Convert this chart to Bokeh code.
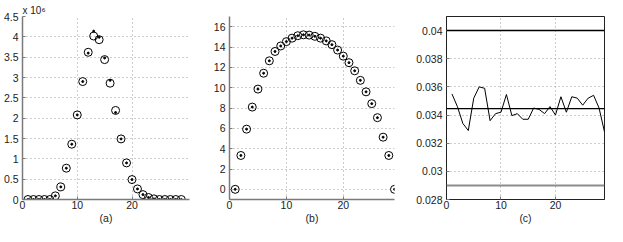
from bokeh.plotting import figure
from bokeh.layouts import row
from bokeh.models import Range1d, FixedTicker, Span, CustomJSTickFormatter
from bokeh.embed import file_html
from bokeh.resources import INLINE

# ---------------- data ----------------
x = list(range(1, 30))

# panel (a), values in units of 1e6
a_circles = [0, 0, 0, 0, 0, 0.09, 0.31, 0.77, 1.36, 2.08, 2.90, 3.62, 4.02, 3.93, 3.44,
             2.86, 2.19, 1.49, 0.90, 0.49, 0.26, 0.12, 0.05, 0.015, 0, 0, 0, 0, 0]
a_dots = [0, 0, 0, 0, 0, 0.09, 0.31, 0.77, 1.36, 2.08, 2.90, 3.60, 4.14, 3.99, 3.48,
          2.93, 2.14, 1.49, 0.90, 0.49, 0.26, 0.12, 0.05, 0.015, 0, 0, 0, 0, 0]
a_yticks = [0, 0.5, 1, 1.5, 2, 2.5, 3, 3.5, 4, 4.5]
a_scale_text = "x 10\u2076"

# panel (b)
b_vals = [0, 3.33, 5.92, 8.09, 9.86, 11.42, 12.64, 13.56, 14.10, 14.53, 14.87, 15.11,
          15.20, 15.17, 15.05, 14.87, 14.60, 14.23, 13.70, 13.10, 12.46, 11.66, 10.72,
          9.59, 8.43, 7.05, 5.13, 3.33, 0]
b_yticks = [0, 2, 4, 6, 8, 10, 12, 14, 16]

# panel (c)
c_vals = [0.0355, 0.0346, 0.0334, 0.0329, 0.0352, 0.0360, 0.0359, 0.0336, 0.0341, 0.0342,
          0.03546, 0.03396, 0.0341, 0.0337, 0.0337, 0.0345, 0.0344, 0.0341, 0.0346, 0.0340,
          0.0353, 0.0342, 0.0353, 0.0352, 0.0347, 0.0352, 0.0354, 0.0345, 0.0328]
c_black_levels = [0.040, 0.03446]
c_gray_levels = [0.029]
c_yticks = [0.028, 0.03, 0.032, 0.034, 0.036, 0.038, 0.04]

x_ticks = [0, 10, 20]
panel_labels = ["(a)", "(b)", "(c)"]

FONT = "Liberation Sans"
TXT = "#222222"
AXC = "#7a7a7a"


def make_fig(width, left, right, xr, yr, yticks, label):
    p = figure(width=width, height=226, x_range=Range1d(*xr), y_range=Range1d(*yr),
               output_backend="svg", toolbar_location=None,
               min_border_left=left, min_border_right=right,
               min_border_top=16, min_border_bottom=26)
    p.outline_line_color = None
    p.xaxis.ticker = FixedTicker(ticks=x_ticks)
    p.yaxis.ticker = FixedTicker(ticks=yticks)
    p.xaxis.formatter = CustomJSTickFormatter(code="return tick.toString();")
    p.yaxis.formatter = CustomJSTickFormatter(code="return tick.toString();")
    for ax in p.axis:
        ax.axis_line_color = AXC
        ax.axis_line_width = 1.5
        ax.major_tick_in = 3
        ax.major_tick_out = 0
        ax.major_tick_line_color = AXC
        ax.minor_tick_line_color = None
        ax.major_label_text_font = FONT
        ax.major_label_text_font_size = "10.5px"
        ax.major_label_text_color = TXT
    p.yaxis.major_label_standoff = 4
    p.xaxis.major_label_standoff = 1
    p.xaxis.axis_label = label
    p.xaxis.axis_label_text_font = FONT
    p.xaxis.axis_label_text_font_size = "10.5px"
    p.xaxis.axis_label_text_font_style = "normal"
    p.xaxis.axis_label_text_color = TXT
    p.xaxis.axis_label_standoff = 0
    p.grid.grid_line_color = "#9a9a9a"
    p.grid.grid_line_dash = "1 3"
    p.grid.grid_line_width = 1
    return p


# ---- (a)
pa = make_fig(200, 20, 11, (0, 30.5), (0, 4.5), a_yticks, panel_labels[0])
pa.title.text = a_scale_text
pa.title.align = "left"
pa.title.text_font = FONT
pa.title.text_font_size = "10px"
pa.title.text_font_style = "normal"
pa.title.text_color = TXT
pa.title.standoff = 1
pa.scatter(x, a_circles, marker="circle", size=8, fill_color=None,
           line_color="black", line_width=1)
pa.scatter(x, a_dots, marker="circle", size=2, fill_color="black", line_color="black")

# ---- (b)
pb = make_fig(202, 29, 8, (0, 29), (-1, 17), b_yticks, panel_labels[1])
pb.scatter(x, b_vals, marker="circle", size=8, fill_color=None,
           line_color="black", line_width=1)
pb.scatter(x, b_vals, marker="circle", size=2, fill_color="black", line_color="black")

# ---- (c)
pc = make_fig(205, 44, 3, (0, 29), (0.028, 0.041), c_yticks, panel_labels[2])
pc.outline_line_color = "#222222"
pc.outline_line_width = 1
for ax in pc.axis:
    ax.axis_line_color = "#222222"
    ax.axis_line_width = 1
for lv in c_gray_levels:
    pc.add_layout(Span(location=lv, dimension="width", line_color="#8c8c8c", line_width=2))
for i, lv in enumerate(c_black_levels):
    pc.add_layout(Span(location=lv, dimension="width", line_color="black",
                       line_width=1.5 if i == 0 else 1.2))
pc.line(x, c_vals, line_color="black", line_width=1)

layout = row(pa, pb, pc)
open("out.html", "w").write(file_html(layout, INLINE))
